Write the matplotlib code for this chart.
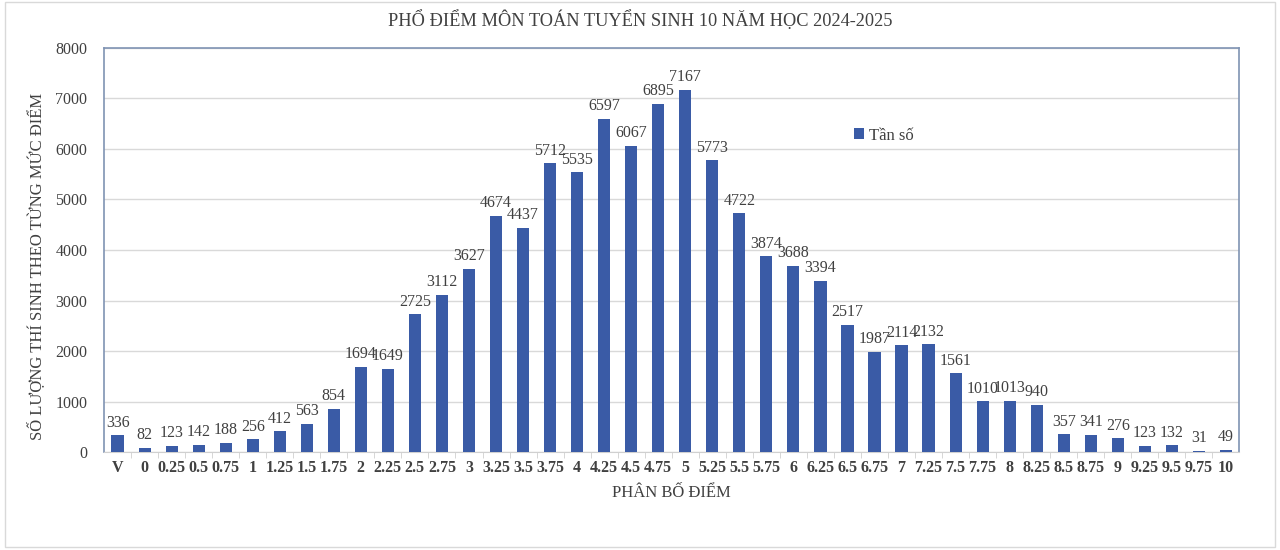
import numpy as np
import matplotlib.pyplot as plt
from matplotlib.patches import Rectangle

# Du lieu pho diem
muc_diem = ["V", "0", "0.25", "0.5", "0.75", "1", "1.25", "1.5", "1.75", "2",
            "2.25", "2.5", "2.75", "3", "3.25", "3.5", "3.75", "4", "4.25", "4.5",
            "4.75", "5", "5.25", "5.5", "5.75", "6", "6.25", "6.5", "6.75", "7",
            "7.25", "7.5", "7.75", "8", "8.25", "8.5", "8.75", "9", "9.25", "9.5",
            "9.75", "10"]
tan_so = [336, 82, 123, 142, 188, 256, 412, 563, 854, 1694,
          1649, 2725, 3112, 3627, 4674, 4437, 5712, 5535, 6597, 6067,
          6895, 7167, 5773, 4722, 3874, 3688, 3394, 2517, 1987, 2114,
          2132, 1561, 1010, 1013, 940, 357, 341, 276, 123, 132,
          31, 49]
y_ticks = [0, 1000, 2000, 3000, 4000, 5000, 6000, 7000, 8000]

plt.rcParams['font.family'] = ['Liberation Serif', 'DejaVu Serif']
text_color = "#404040"
bar_color = "#3A5BA6"

fig = plt.figure(figsize=(12.8, 5.5), dpi=100)
ax = fig.add_axes([0.0813, 0.178, 0.887, 0.735])

x = np.arange(len(muc_diem))
ax.bar(x, tan_so, width=0.45, color=bar_color, label="Tần số", zorder=3)
for xi, v in zip(x, tan_so):
    ax.text(xi, v + 90, str(v), ha="center", va="bottom", fontsize=11.5, color=text_color, zorder=4)

ax.set_xlim(-0.5, len(muc_diem) - 0.5)
ax.set_ylim(0, 8000)
ax.set_yticks(y_ticks)
ax.set_xticks(x)
ax.set_xticklabels(muc_diem, fontweight="bold", fontsize=11.5, color=text_color)
ax.set_xticks(x[:-1] + 0.5, minor=True)
ax.tick_params(axis="x", which="major", length=0, pad=6)
ax.tick_params(axis="x", which="minor", length=4, color="#d0d0d0")
ax.tick_params(axis="y", length=0, labelsize=11.5, labelcolor=text_color, pad=12)
ax.grid(axis="y", color="#d9d9d9", linewidth=1, zorder=0)

for side in ["left", "top", "right"]:
    ax.spines[side].set_color("#7f93b3")
    ax.spines[side].set_linewidth(1.2)
ax.spines["bottom"].set_color("#d0d0d0")

ax.set_xlabel("PHÂN BỐ ĐIỂM", fontsize=12, color=text_color, labelpad=6)
ax.set_ylabel("SỐ LƯỢNG THÍ SINH THEO TỪNG MỨC ĐIỂM", fontsize=12, color=text_color, labelpad=16)
ax.yaxis.set_label_coords(-0.052, 0.46)
fig.suptitle("PHỔ ĐIỂM MÔN TOÁN TUYỂN SINH 10 NĂM HỌC 2024-2025", y=0.982, fontsize=13.2, color=text_color)

ax.legend(loc="upper left", bbox_to_anchor=(0.647, 0.84), frameon=False, fontsize=12,
          handlelength=0.6, handleheight=0.6, handletextpad=0.3, labelcolor=text_color)

fig.patches.append(Rectangle((0.004, 0.006), 0.992, 0.99, transform=fig.transFigure,
                             fill=False, edgecolor="#d9d9d9", linewidth=1))

fig.savefig("out.png", dpi=100)
